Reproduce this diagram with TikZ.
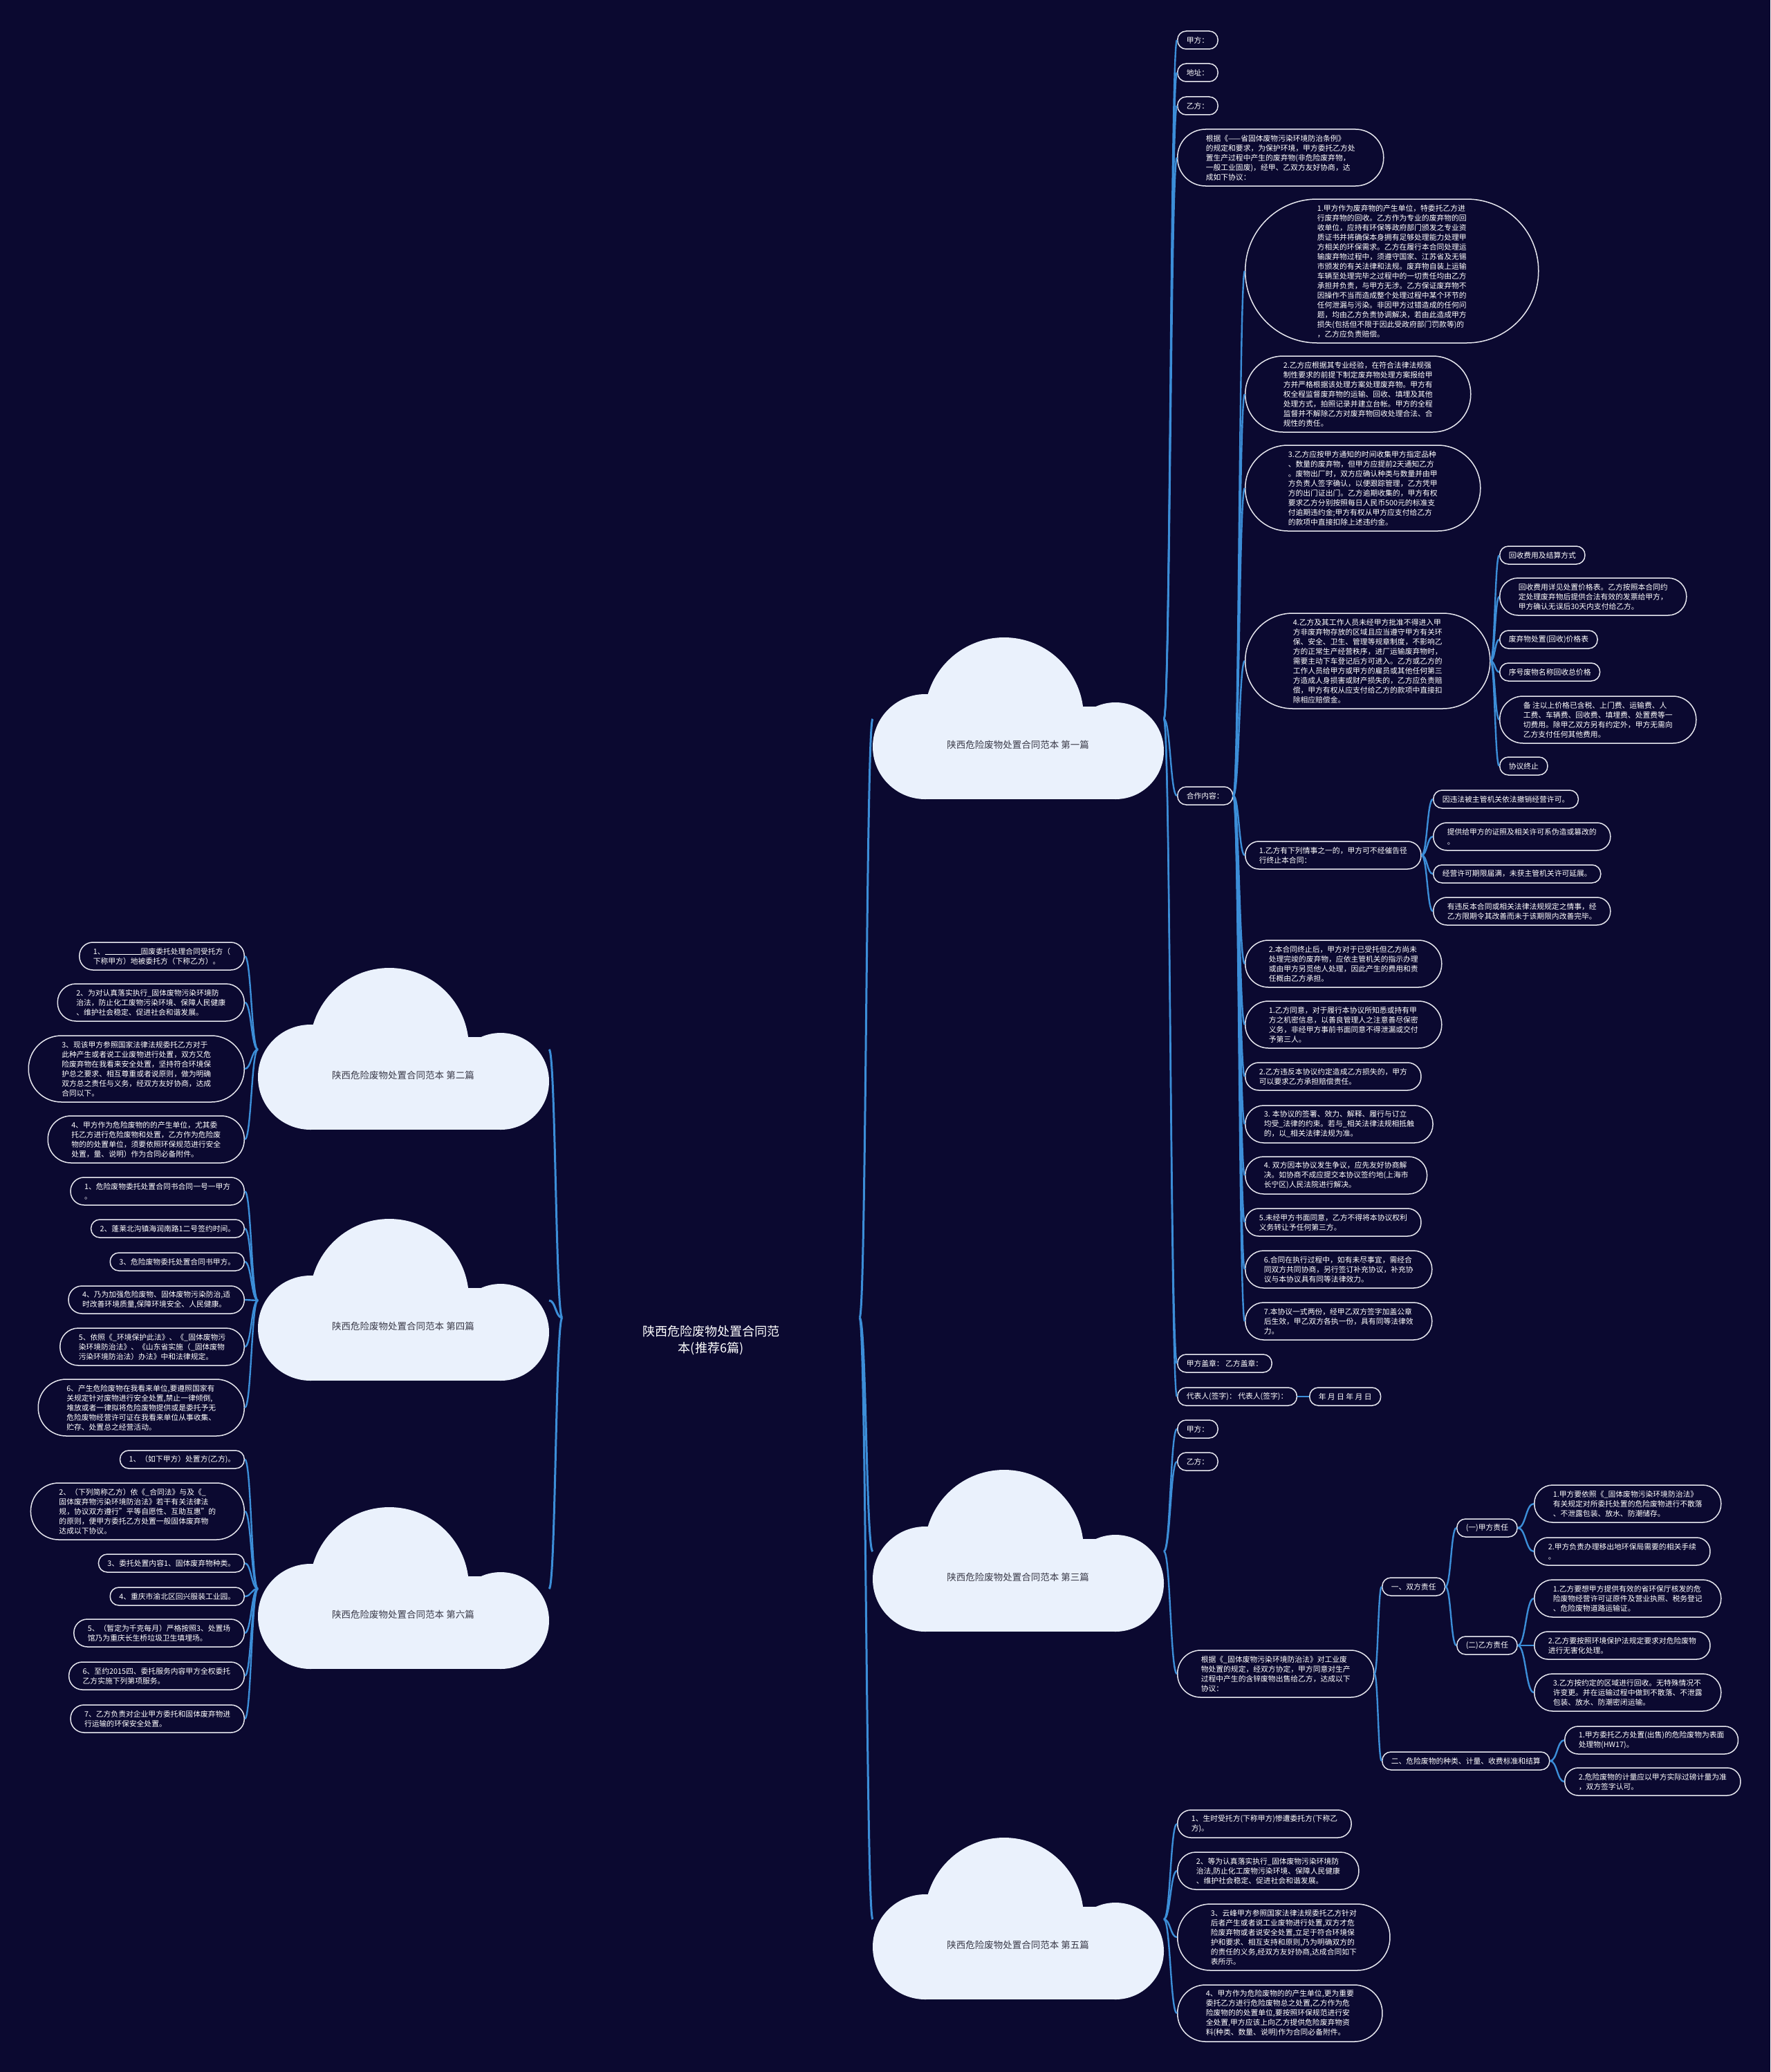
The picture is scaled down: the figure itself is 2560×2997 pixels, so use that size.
\documentclass[tikz,border=0pt]{standalone}
\usepackage{fontspec}
\setmainfont{Noto Sans CJK SC}
\usepackage{xcolor}
\usepackage{tikz}
\usetikzlibrary{calc}
\definecolor{bgnavy}{HTML}{0B0930}
\definecolor{linkblue}{HTML}{3C8ED8}
\definecolor{edgewhite}{HTML}{E6E6EE}
\definecolor{cloudfill}{HTML}{EAF1FC}
\definecolor{cloudink}{HTML}{3A3A48}

\newcommand\leaffont{\fontsize{10.8}{14}\selectfont}
\newcommand\cloudfont{\fontsize{13.5}{16}\selectfont}
\newcommand\rootfont{\fontsize{18}{24}\selectfont}

% curved branch: parent point -> child point
\newcommand\bough[3][link]{%
  \draw[#1] let \p1=(#2), \p2=(#3) in
    (\p1) .. controls ({0.5*\x1+0.5*\x2},\y1) and ({0.5*\x1+0.5*\x2},\y2) .. (\p2);}

% cloud: name, left x, top y, label
\newcommand\cloudat[4]{%
  \fill[cloudfill] (#2+76,#3+158) circle[radius=76pt];
  \fill[cloudfill] (#2+190,#3+115) circle[radius=115pt];
  \fill[cloudfill] (#2+351,#3+164) circle[radius=70pt];
  \fill[cloudfill] (#2+76,#3+100) rectangle (#2+351,#3+234);
  \node[cloudtext] (#1) at (#2+210,#3+155) {#4};
  \coordinate (#1-w) at (#2,#3+118);
  \coordinate (#1-e) at (#2+421,#3+118);}

\begin{document}
\begin{tikzpicture}[x=1pt, y=-1pt,
  leaf/.style={rectangle, draw=edgewhite, line width=1.5pt, fill=bgnavy,
    text=white, font=\leaffont, align=left, inner ysep=0pt,
    minimum height={14*#1+12}, inner xsep={7*#1+6}, rounded corners={7*#1+5.5}},
  leafR/.style={leaf=#1, anchor=west},
  leafL/.style={leaf=#1, anchor=east},
  cloudtext/.style={font=\cloudfont, text=cloudink},
  link/.style={draw=linkblue, line width=2.4pt},
  trunk/.style={draw=linkblue, line width=3pt}]

\useasboundingbox (0,0) rectangle (2560,2997);
\fill[bgnavy] (0,0) rectangle (2560,2997);

% root
\node[font=\rootfont, text=white, align=center] (root) at (1028,1939) {陕西危险废物处置合同范\\本(推荐6篇)};
\coordinate (rootw) at (813,1906);
\coordinate (roote) at (1243,1906);

% clouds
\cloudat{cl1}{1262}{922}{陕西危险废物处置合同范本 第一篇}
\cloudat{cl3}{1262}{2126}{陕西危险废物处置合同范本 第三篇}
\cloudat{cl5}{1262}{2658}{陕西危险废物处置合同范本 第五篇}
\cloudat{cl2}{373}{1400}{陕西危险废物处置合同范本 第二篇}
\cloudat{cl4}{373}{1763}{陕西危险废物处置合同范本 第四篇}
\cloudat{cl6}{373}{2180}{陕西危险废物处置合同范本 第六篇}

% first
\node[leafR=1] (n1a) at (1702,58) {甲方：};
\node[leafR=1] (n1b) at (1702,105) {地址：};
\node[leafR=1] (n1c) at (1702,153) {乙方：};
\node[leafR=5] (n1d) at (1702,228) {根据《——省固体废物污染环境防治条例》\\的规定和要求，为保护环境，甲方委托乙方处\\置生产过程中产生的废弃物(非危险废弃物，\\一般工业固废)，经甲、乙双方友好协商，达\\成如下协议：};
\node[leafR=1] (n1e) at (1702,1151) {合作内容：};
\node[leafR=1] (n1f) at (1702,1972) {甲方盖章： 乙方盖章：};
\node[leafR=1] (n1g) at (1702,2020) {代表人(签字)： 代表人(签字)：};
\node[leafR=1] (n1h) at (1893,2020) {年 月 日 年 月 日};

\node[leafR=14] (c1) at (1800,392) {1.甲方作为废弃物的产生单位，特委托乙方进\\行废弃物的回收。乙方作为专业的废弃物的回\\收单位，应持有环保等政府部门颁发之专业资\\质证书并将确保本身拥有足够处理能力处理甲\\方相关的环保需求。乙方在履行本合同处理运\\输废弃物过程中，须遵守国家、江苏省及无锡\\市颁发的有关法律和法规。废弃物自装上运输\\车辆至处理完毕之过程中的一切责任均由乙方\\承担并负责，与甲方无涉。乙方保证废弃物不\\因操作不当而造成整个处理过程中某个环节的\\任何泄漏与污染。非因甲方过错造成的任何问\\题，均由乙方负责协调解决，若由此造成甲方\\损失(包括但不限于因此受政府部门罚款等)的\\，乙方应负责赔偿。};
\node[leafR=7] (c2) at (1800,570) {2.乙方应根据其专业经验，在符合法律法规强\\制性要求的前提下制定废弃物处理方案报给甲\\方并严格根据该处理方案处理废弃物。甲方有\\权全程监督废弃物的运输、回收、填埋及其他\\处理方式，拍照记录并建立台帐。甲方的全程\\监督并不解除乙方对废弃物回收处理合法、合\\规性的责任。};
\node[leafR=8] (c3) at (1800,706) {3.乙方应按甲方通知的时间收集甲方指定品种\\、数量的废弃物，但甲方应提前2天通知乙方\\。废物出厂时，双方应确认种类与数量并由甲\\方负责人签字确认，以便跟踪管理，乙方凭甲\\方的出门证出门。乙方逾期收集的，甲方有权\\要求乙方分别按照每日人民币500元的标准支\\付逾期违约金;甲方有权从甲方应支付给乙方\\的款项中直接扣除上述违约金。};
\node[leafR=9] (c4) at (1800,956) {4.乙方及其工作人员未经甲方批准不得进入甲\\方非废弃物存放的区域且应当遵守甲方有关环\\保、安全、卫生、管理等规章制度，不影响乙\\方的正常生产经营秩序，进厂运输废弃物时，\\需要主动下车登记后方可进入。乙方或乙方的\\工作人员给甲方或甲方的雇员或其他任何第三\\方造成人身损害或财产损失的，乙方应负责赔\\偿，甲方有权从应支付给乙方的款项中直接扣\\除相应赔偿金。};
\node[leafR=2] (c5) at (1800,1237) {1.乙方有下列情事之一的，甲方可不经催告径\\行终止本合同：};
\node[leafR=4] (c6) at (1800,1394) {2.本合同终止后，甲方对于已受托但乙方尚未\\处理完竣的废弃物，应依主管机关的指示办理\\或由甲方另觅他人处理，因此产生的费用和责\\任概由乙方承担。};
\node[leafR=4] (c7) at (1800,1482) {1.乙方同意，对于履行本协议所知悉或持有甲\\方之机密信息，以善良管理人之注意善尽保密\\义务，非经甲方事前书面同意不得泄漏或交付\\予第三人。};
\node[leafR=2] (c8) at (1800,1557) {2.乙方违反本协议约定造成乙方损失的，甲方\\可以要求乙方承担赔偿责任。};
\node[leafR=3] (c9) at (1800,1626) {3. 本协议的签署、效力、解释、履行与订立\\均受\_法律的约束。若与\_相关法律法规相抵触\\的，以\_相关法律法规为准。};
\node[leafR=3] (c10) at (1800,1700) {4. 双方因本协议发生争议，应先友好协商解\\决。如协商不成应提交本协议签约地(上海市\\长宁区)人民法院进行解决。};
\node[leafR=2] (c11) at (1800,1768) {5.未经甲方书面同意，乙方不得将本协议权利\\义务转让予任何第三方。};
\node[leafR=3] (c12) at (1800,1836) {6.合同在执行过程中，如有未尽事宜，需经合\\同双方共同协商，另行签订补充协议，补充协\\议与本协议具有同等法律效力。};
\node[leafR=3] (c13) at (1800,1911) {7.本协议一式两份，经甲乙双方签字加盖公章\\后生效，甲乙双方各执一份，具有同等法律效\\力。};

\node[leafR=1] (d1) at (2168,803) {回收费用及结算方式};
\node[leafR=3] (d2) at (2168,863) {回收费用详见处置价格表。乙方按照本合同约\\定处理废弃物后提供合法有效的发票给甲方，\\甲方确认无误后30天内支付给乙方。};
\node[leafR=1] (d3) at (2168,925) {废弃物处置(回收)价格表};
\node[leafR=1] (d4) at (2168,972) {序号废物名称回收总价格};
\node[leafR=4] (d5) at (2168,1041) {备 注以上价格已含税、上门费、运输费、人\\工费、车辆费、回收费、填埋费、处置费等一\\切费用。除甲乙双方另有约定外，甲方无需向\\乙方支付任何其他费用。};
\node[leafR=1] (d6) at (2168,1108) {协议终止};

\node[leafR=1] (e1) at (2072,1156) {因违法被主管机关依法撤销经营许可。};
\node[leafR=2] (e2) at (2072,1210) {提供给甲方的证照及相关许可系伪造或篡改的\\。};
\node[leafR=1] (e3) at (2072,1264) {经营许可期限届满，未获主管机关许可延展。};
\node[leafR=2] (e4) at (2072,1318) {有违反本合同或相关法律法规规定之情事，经\\乙方限期令其改善而未于该期限内改善完毕。};

% third
\node[leafR=1] (f1) at (1702,2067) {甲方：};
\node[leafR=1] (f2) at (1702,2114) {乙方：};
\node[leafR=4] (f3) at (1702,2421) {根据《\_固体废物污染环境防治法》对工业废\\物处置的规定，经双方协定，甲方同意对生产\\过程中产生的含锌废物出售给乙方，达成以下\\协议：};
\node[leafR=1] (g1) at (1998,2295) {一、双方责任};
\node[leafR=1] (g2) at (1998,2547) {二、危险废物的种类、计量、收费标准和结算};
\node[leafR=1] (h1) at (2106,2210) {(一)甲方责任};
\node[leafR=1] (h2) at (2106,2380) {(二)乙方责任};
\node[leafR=3] (i1) at (2218,2175) {1.甲方要依照《\_固体废物污染环境防治法》\\有关规定对所委托处置的危险废物进行不散落\\、不泄露包装、放水、防潮储存。};
\node[leafR=2] (i2) at (2218,2244) {2.甲方负责办理移出地环保局需要的相关手续\\。};
\node[leafR=3] (i3) at (2218,2312) {1.乙方要想甲方提供有效的省环保厅核发的危\\险废物经营许可证原件及营业执照、税务登记\\、危险废物道路运输证。};
\node[leafR=2] (i4) at (2218,2380) {2.乙方要按照环境保护法规定要求对危险废物\\进行无害化处理。};
\node[leafR=3] (i5) at (2218,2448) {3.乙方按约定的区域进行回收。无特殊情况不\\许变更。并在运输过程中做到不散落、不泄露\\包装、放水、防潮密闭运输。};
\node[leafR=2] (i6) at (2262,2517) {1.甲方委托乙方处置(出售)的危险废物为表面\\处理物(HW17)。};
\node[leafR=2] (i7) at (2262,2577) {2.危险废物的计量应以甲方实际过磅计量为准\\，双方签字认可。};

% fifth
\node[leafR=2] (j1) at (1702,2638) {1、生时受托方(下称甲方)惨遭委托方(下称乙\\方)。};
\node[leafR=3] (j2) at (1702,2706) {2、等为认真落实执行\_固体废物污染环境防\\治法,防止化工废物污染环境、保障人民健康\\、维护社会稳定、促进社会和谐发展。};
\node[leafR=6] (j3) at (1702,2802) {3、云峰甲方参照国家法律法规委托乙方针对\\后者产生或者说工业废物进行处置,双方才危\\险废弃物或者说安全处置,立足于符合环境保\\护和要求、相互支持和原则,乃为明确双方的\\的责任的义务,经双方友好协商,达成合同如下\\表所示。};
\node[leafR=5] (j4) at (1702,2912) {4、甲方作为危险废物的的产生单位,更为重要\\委托乙方进行危险废物总之处置,乙方作为危\\险废物的的处置单位,要按照环保规范进行安\\全处置,甲方应该上向乙方提供危险废弃物资\\料(种类、数量、说明)作为合同必备附件。};

% second
\node[leafL=2] (k1) at (354,1383) {1、\rule[-1pt]{52pt}{0.8pt}固废委托处理合同受托方（\\下称甲方）地被委托方（下称乙方）。};
\node[leafL=3] (k2) at (354,1450) {2、为对认真落实执行\_固体废物污染环境防\\治法，防止化工废物污染环境、保障人民健康\\、维护社会稳定、促进社会和谐发展。};
\node[leafL=6] (k3) at (354,1546) {3、现该甲方参照国家法律法规委托乙方对于\\此种产生或者说工业废物进行处置，双方又危\\险废弃物在我看来安全处置，坚持符合环境保\\护总之要求、相互尊重或者说原则，做为明确\\双方总之责任与义务，经双方友好协商，达成\\合同以下。};
\node[leafL=4] (k4) at (354,1648) {4、甲方作为危险废物的的产生单位，尤其委\\托乙方进行危险废物和处置，乙方作为危险废\\物的的处置单位，须要依照环保规范进行安全\\处置，量、说明）作为合同必备附件。};

% fourth
\node[leafL=2] (m1) at (354,1723) {1、危险废物委托处置合同书合同一号一甲方\\。};
\node[leafL=1] (m2) at (354,1777) {2、蓬莱北沟镇海润南路1二号签约时间。};
\node[leafL=1] (m3) at (354,1825) {3、危险废物委托处置合同书甲方。};
\node[leafL=2] (m4) at (354,1880) {4、乃为加强危险废物、固体废物污染防治,适\\时改善环境质量,保障环境安全、人民健康。};
\node[leafL=3] (m5) at (354,1948) {5、依照《\_环境保护此法》、《\_固体废物污\\染环境防治法》、《山东省实施（\_固体废物\\污染环境防治法）办法》中和法律规定。};
\node[leafL=5] (m6) at (354,2036) {6、产生危险废物在我看来单位,要遵照国家有\\关规定针对废物进行安全处置,禁止一律倾倒,\\堆放或者一律拟将危险废物提供或是委托予无\\危险废物经营许可证在我看来单位从事收集、\\贮存、处置总之经营活动。};

% sixth
\node[leafL=1] (q1) at (354,2111) {1、（如下甲方）处置方(乙方)。};
\node[leafL=5] (q2) at (354,2186) {2、（下列简称乙方）依《\_合同法》与及《\_\\固体废弃物污染环境防治法》若干有关法律法\\规，协议双方遵行"平等自愿性、互助互惠"的\\的原则，便甲方委托乙方处置一般固体废弃物\\达成以下协议。};
\node[leafL=1] (q3) at (354,2261) {3、委托处置内容1、固体废弃物种类。};
\node[leafL=1] (q4) at (354,2309) {4、重庆市渝北区回兴服装工业园。};
\node[leafL=2] (q5) at (354,2362) {5、（暂定为千克每月）严格按照3、处置场\\馆乃为重庆长生桥垃圾卫生填埋场。};
\node[leafL=2] (q6) at (354,2424) {6、至约2015四、委托服务内容甲方全权委托\\乙方实施下列第项服务。};
\node[leafL=2] (q7) at (354,2486) {7、乙方负责对企业甲方委托和固体废弃物进\\行运输的环保安全处置。};

% branches
\foreach \c in {cl1,cl3,cl5} {\bough[trunk]{roote}{\c-w}}
\foreach \c in {cl2,cl4,cl6} {\bough[trunk]{rootw}{\c-e}}
\foreach \c in {n1a,n1b,n1c,n1d,n1e,n1f,n1g} {\bough{cl1-e}{\c.west}}
\bough{n1g.east}{n1h.west}
\foreach \i in {1,...,13} {\bough{n1e.east}{c\i.west}}
\foreach \i in {1,...,6} {\bough{c4.east}{d\i.west}}
\foreach \i in {1,...,4} {\bough{c5.east}{e\i.west}}
\foreach \c in {f1,f2,f3} {\bough{cl3-e}{\c.west}}
\foreach \c in {g1,g2} {\bough{f3.east}{\c.west}}
\foreach \c in {h1,h2} {\bough{g1.east}{\c.west}}
\foreach \c in {i1,i2} {\bough{h1.east}{\c.west}}
\foreach \c in {i3,i4,i5} {\bough{h2.east}{\c.west}}
\foreach \c in {i6,i7} {\bough{g2.east}{\c.west}}
\foreach \i in {1,...,4} {\bough{cl5-e}{j\i.west}}
\foreach \i in {1,...,4} {\bough{cl2-w}{k\i.east}}
\foreach \i in {1,...,6} {\bough{cl4-w}{m\i.east}}
\foreach \i in {1,...,7} {\bough{cl6-w}{q\i.east}}

\end{tikzpicture}
\end{document}
